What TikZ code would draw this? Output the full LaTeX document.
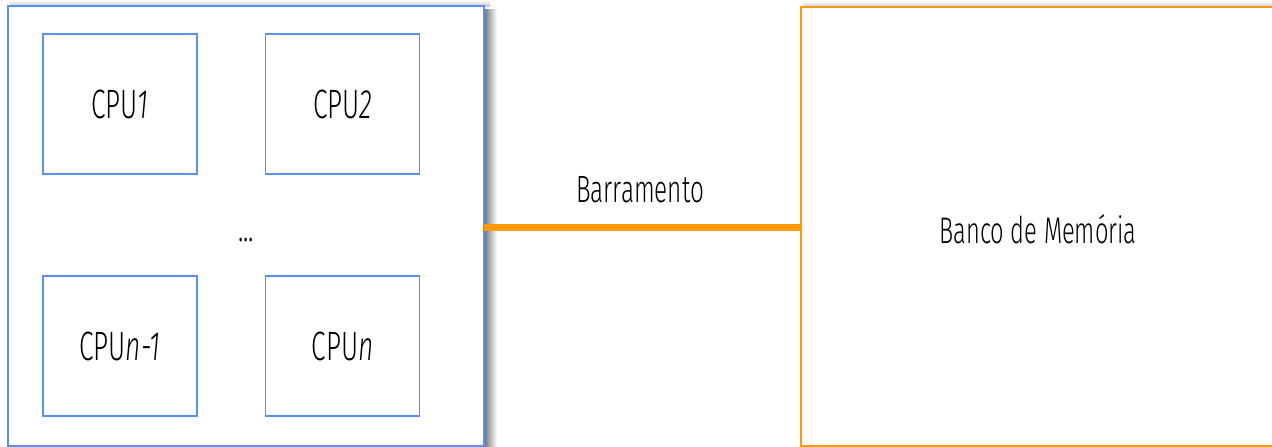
\documentclass[tikz,border=0pt]{standalone}
\usepackage{fontspec}
\setmainfont{Fira Sans Light}[FakeStretch=0.64, ItalicFont={Fira Sans Light Italic}]
\definecolor{cpublue}{HTML}{5B8FEF}
\definecolor{busorange}{HTML}{FF9B00}
\tikzset{
  cpubox/.style={draw=cpublue, line width=1.5pt, minimum width=154pt, minimum height=140pt, inner sep=0pt, outer sep=0pt, font=\fontsize{41}{44}\selectfont},
  outerbox/.style={draw=cpublue, line width=1.6pt, fill=white, minimum width=476pt, minimum height=440pt, inner sep=0pt, outer sep=0pt},
  membox/.style={draw=busorange, line width=2pt, fill=white, minimum width=500pt, minimum height=439pt, inner sep=0pt, outer sep=0pt},
  lbl/.style={inner sep=0pt, font=\fontsize{38}{40}\selectfont},
  sideshadow/.style={left color=black!55, right color=white},
  topshadow/.style={bottom color=black!22, top color=white},
}
\begin{document}
\begin{tikzpicture}[x=1pt,y=-1pt]
\useasboundingbox (0,0) rectangle (1272,447);
\fill[white] (0,0) rectangle (1272,447);
% soft shadows
\fill[sideshadow] (484,9) rectangle (497,447);
\fill[topshadow] (10,6) rectangle (490,0);
\fill[topshadow] (803,7) rectangle (1272,1);
\node[outerbox] (outer) at (246,226) {};
\node[cpubox] (cpu1) at (120,104) {CPU\textit{1}};
\node[cpubox] (cpu2) at (342.5,104) {CPU\textit{2}};
\node[cpubox] (cpun1) at (120,346) {CPU\textit{n-1}};
\node[cpubox] (cpun) at (342.5,346) {CPU\textit{n}};
\node[inner sep=0pt, anchor=base, font=\fontsize{40}{42}\selectfont] (dots) at (246,241) {...};
\node[membox] (mem) at (1051,226.5) {};
\node[lbl, font=\fontsize{37}{38}\selectfont] (memlbl) at (1038,229) {Banco de Memória};
\draw[busorange, line width=7pt] (outer.east |- 0,227) coordinate (busA) -- (mem.west |- 0,227) coordinate (busB);
\node[lbl, anchor=base] (buslbl) at (640,202) {Barramento};
\end{tikzpicture}
\end{document}
